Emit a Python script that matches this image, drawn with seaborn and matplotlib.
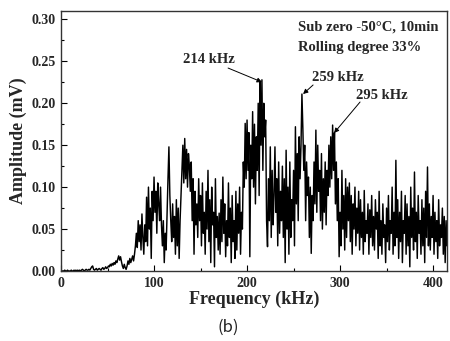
"""AE spectrum, sub-zero -50 C / 10 min, rolling degree 33 % (panel b)."""
import matplotlib
matplotlib.use("Agg")
import matplotlib.pyplot as plt
import numpy as np
import pandas as pd
import seaborn as sns

# amplitude, one value per kHz starting at 0 kHz (in uV)
amp_uV = [
    0, 0, 0, 0, 1, 0, 0, 1, 0, 0,
    0, 1, 0, 0, 1, 0, 1, 0, 1, 0,
    1, 0, 1, 2, 1, 0, 1, 2, 1, 1,
    2, 1, 3, 5, 6, 2, 1, 2, 3, 1,
    2, 3, 2, 1, 3, 4, 2, 3, 5, 3,
    4, 6, 5, 8, 6, 9, 7, 10, 8, 12,
    10, 14, 18, 13, 17, 11, 6, 3, 8, 4,
    2, 6, 12, 8, 15, 10, 14, 18, 12, 20,
    30, 45, 28, 60, 35, 55, 25, 68, 40, 20,
    55, 35, 88, 30, 100, 50, 75, 15, 95, 60,
    112, 70, 95, 45, 105, 80, 60, 100, 55, 30,
    60, 10, 45, 25, 70, 110, 148, 90, 60, 35,
    80, 40, 65, 20, 85, 30, 75, 15, 60, 90,
    120, 150, 105, 158, 110, 145, 100, 140, 125, 95,
    130, 60, 110, 20, 95, 55, 80, 40, 110, 60,
    90, 30, 105, 45, 70, 20, 95, 50, 120, 35,
    85, 10, 100, 55, 70, 5, 110, 40, 65, 25,
    69, 20, 85, 35, 112, 45, 80, 17, 60, 30,
    105, 40, 75, 10, 90, 35, 60, 15, 95, 25,
    80, 45, 100, 20, 70, 50, 130, 100, 176, 110,
    180, 120, 165, 17, 150, 110, 190, 100, 175, 80,
    160, 120, 200, 90, 226, 150, 228, 120, 200, 160,
    180, 60, 29, 110, 60, 148, 40, 120, 55, 90,
    148, 70, 110, 30, 130, 45, 95, 60, 125, 40,
    110, 10, 144, 50, 100, 20, 130, 40, 85, 60,
    120, 30, 172, 80, 140, 60, 160, 110, 150, 211,
    170, 120, 150, 60, 130, 90, 112, 40, 100, 21,
    90, 60, 130, 80, 168, 70, 150, 95, 120, 60,
    140, 50, 110, 70, 130, 55, 120, 90, 150, 100,
    160, 110, 174, 120, 165, 80, 130, 60, 110, 17,
    70, 30, 120, 50, 90, 25, 110, 40, 100, 60,
    105, 35, 90, 20, 80, 50, 100, 30, 75, 45,
    95, 25, 85, 40, 70, 20, 96, 35, 60, 45,
    80, 20, 73, 40, 90, 30, 65, 25, 85, 50,
    70, 15, 95, 30, 60, 20, 80, 40, 55, 10,
    75, 35, 90, 25, 60, 45, 100, 20, 70, 30,
    132, 40, 85, 15, 70, 35, 95, 10, 60, 45,
    90, 20, 80, 30, 65, 5, 100, 40, 75, 25,
    118, 35, 70, 15, 90, 45, 60, 20, 85, 30,
    75, 10, 95, 40, 124, 30, 80, 25, 65, 40,
    90, 20, 70, 35, 60, 15, 85, 30, 55, 40,
    75, 20, 65, 10, 60, 30, 50,
]
FREQ_STEP_KHZ = 1

# peak labels: (text, text centre, arrow tail, arrow head) in data units
peak_labels = ["214 kHz", "259 kHz", "295 kHz"]
peak_text_xy = [(159, 0.2516), (298, 0.2313), (345, 0.2098)]
peak_tail_xy = [(179.6, 0.242), (271, 0.2218), (321.5, 0.2015)]
peak_head_xy = [(216, 0.2253), (260.2, 0.211), (293.5, 0.1645)]

info_lines = ["Sub zero -50\u00b0C, 10min", "Rolling degree 33%"]

SERIF = ["Liberation Serif", "DejaVu Serif"]

df = pd.DataFrame({
    "freq": np.arange(len(amp_uV)) * FREQ_STEP_KHZ,
    "amp": np.array(amp_uV) / 1000.0,   # uV -> mV
})

sns.set_style("ticks")
plt.rcParams["font.family"] = SERIF
plt.rcParams["font.weight"] = "bold"

fig = plt.figure(figsize=(4.5, 3.41), dpi=100)
ax = fig.add_axes([0.1356, 0.2053, 0.8578, 0.7624])

sns.lineplot(data=df, x="freq", y="amp", color="black", lw=1.05, ax=ax,
             estimator=None)

ax.set_xlim(0, 415)
ax.set_ylim(0, 0.31)
ax.set_xticks([0, 100, 200, 300, 400])
ax.set_xticks([50, 150, 250, 350], minor=True)
ax.set_yticks(np.arange(0, 0.31, 0.05))
ax.set_yticks(np.arange(0.025, 0.31, 0.05), minor=True)
ax.set_yticklabels([f"{v:.2f}" for v in np.arange(0, 0.31, 0.05)])
ax.tick_params(which="both", direction="in", labelsize=10, pad=4,
               width=0.8, color="black")
ax.tick_params(which="major", length=4)
ax.tick_params(which="minor", length=2)
for lbl in ax.get_xticklabels() + ax.get_yticklabels():
    lbl.set_fontweight("bold")
for sp in ax.spines.values():
    sp.set_color("#333333")
    sp.set_linewidth(1.0)

ax.set_xlabel("Frequency (kHz)", fontsize=13, fontweight="bold", labelpad=1)
ax.set_ylabel("Amplitude (mV)", fontsize=13, fontweight="bold", labelpad=3)

for y, line in zip([0.291, 0.267], info_lines):
    ax.text(254.8, y, line, ha="left", va="center", fontsize=10.5,
            fontweight="bold")

for lab, txy, tail, head in zip(peak_labels, peak_text_xy, peak_tail_xy,
                                peak_head_xy):
    ax.text(txy[0], txy[1], lab, ha="center", va="center", fontsize=10.5,
            fontweight="bold")
    ax.annotate("", xy=head, xytext=tail,
                arrowprops=dict(arrowstyle="-|>", lw=0.7, color="black",
                                mutation_scale=7, shrinkA=0, shrinkB=0))

fig.text(0.507, 0.041, "(b)", ha="center", va="center", fontsize=12,
         fontweight="light", color="#222222",
         family=["Noto Sans CJK SC", "DejaVu Sans"])

fig.savefig("out.png", dpi=100)
